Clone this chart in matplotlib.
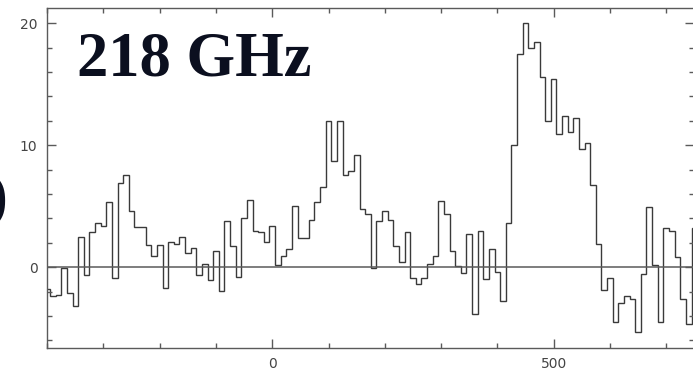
import numpy as np
import matplotlib
matplotlib.use("Agg")
import matplotlib.pyplot as plt
from matplotlib.ticker import MultipleLocator, FixedLocator

# Channel centres (km/s), 10 km/s wide channels
velocity = np.arange(-400, 751, 10)

# Line intensity per channel
intensity = [
    -1.8, -2.4, -2.3, -0.1, -2.1, -3.2, 2.5, -0.6, 2.9, 3.6,
    3.4, 5.35, -0.85, 6.9, 7.6, 4.6, 3.3, 3.3, 1.8, 0.9,
    1.8, -1.7, 2.1, 1.9, 2.5, 1.2, 1.6, -0.6, 0.3, -1.05,
    1.3, -1.95, 3.8, 1.75, -0.77, 4.0, 5.5, 3.0, 2.9, 2.1,
    3.4, 0.2, 0.9, 1.5, 5.05, 2.4, 2.4, 3.9, 5.35, 6.6,
    12.0, 8.7, 12.0, 7.6, 7.9, 9.2, 4.75, 4.4, -0.05, 3.8,
    4.6, 3.9, 1.75, 0.46, 2.9, -0.85, -1.4, -0.85, 0.25, 0.93,
    5.4, 4.4, 1.3, 0.1, -0.5, 2.7, -3.8, 3.0, -1.0, 1.5,
    -0.4, -2.75, 3.65, 10.0, 17.5, 20.0, 18.0, 18.5, 15.6, 12.0,
    15.4, 10.9, 12.4, 11.1, 12.2, 9.7, 10.2, 6.7, 1.9, -1.9,
    -0.85, -4.5, -2.95, -2.4, -2.6, -5.35, -0.57, 4.95, 0.2, -4.5,
    3.25, 3.0, 0.85, -2.6, -4.65, 3.25,
]

x_major = [0, 500]
y_major = [0, 10, 20]
title_text = "218 GHz"

edges = np.append(velocity - 5, velocity[-1] + 5)

fig = plt.figure(figsize=(6.93, 3.74), dpi=100)
ax = fig.add_axes([0.0681, 0.0703, 0.9338, 0.9083])

line_col = "#3a3a3a"
axis_col = "#5a5a5a"

ax.stairs(intensity, edges, baseline=None, color=line_col, lw=1.0)
ax.axhline(0, color=axis_col, lw=1.1, zorder=1)

ax.set_xlim(-400, 750)
ax.set_ylim(-6.6, 21.25)

ax.xaxis.set_major_locator(FixedLocator(x_major))
ax.xaxis.set_minor_locator(MultipleLocator(100))
ax.yaxis.set_major_locator(FixedLocator(y_major))
ax.yaxis.set_minor_locator(MultipleLocator(2))

ax.tick_params(which="both", direction="in", top=True, right=True,
               color=axis_col, width=1.0, labelcolor="#444444",
               labelsize=10, pad=7)
ax.tick_params(which="major", length=6.5)
ax.tick_params(which="minor", length=3.6)

for s in ax.spines.values():
    s.set_color(axis_col)
    s.set_linewidth(1.0)

fig.text(77 / 693, 1 - 75 / 374, title_text, fontfamily="Liberation Serif",
         fontweight="bold", fontsize=45, color="#0b0f1f",
         ha="left", va="baseline")
fig.text(8 / 693, 1 - 200 / 374, ")", fontfamily="Liberation Serif",
         fontweight="bold", fontsize=45, color="#0b0f1f",
         ha="right", va="center")

fig.savefig("out.png", dpi=100)
